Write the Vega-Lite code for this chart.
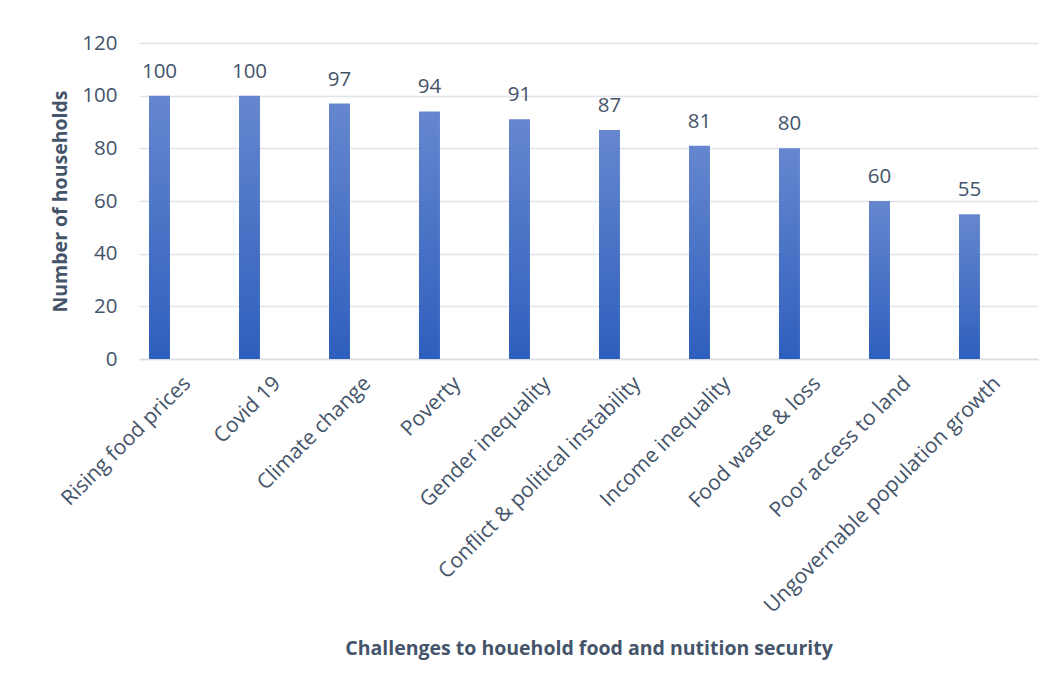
{
  "$schema": "https://vega.github.io/schema/vega-lite/v6.json",
  "width": 899,
  "height": 316,
  "autosize": {"type": "none"},
  "padding": {"left": 139, "top": 43, "right": 15, "bottom": 329},
  "background": "white",
  "config": {
    "view": {"stroke": null},
    "font": "Open Sans"
  },
  "data": {
    "values": [
      {"challenge": "Rising food prices", "households": 100},
      {"challenge": "Covid 19", "households": 100},
      {"challenge": "Climate change", "households": 97},
      {"challenge": "Poverty", "households": 94},
      {"challenge": "Gender inequality", "households": 91},
      {"challenge": "Conflict & political instability", "households": 87},
      {"challenge": "Income inequality", "households": 81},
      {"challenge": "Food waste & loss", "households": 80},
      {"challenge": "Poor access to land", "households": 60},
      {"challenge": "Ungovernable population growth", "households": 55}
    ]
  },
  "encoding": {
    "x": {
      "field": "challenge",
      "type": "nominal",
      "sort": null,
      "scale": {"paddingInner": 0.767, "paddingOuter": 0.378, "align": 0.147},
      "axis": {
        "title": "Challenges to houehold food and nutition security",
        "titleFont": "Open Sans",
        "titleFontSize": 19.5,
        "titleFontWeight": "bold",
        "titleColor": "#44546A",
        "titleY": 289,
        "titleBaseline": "middle",
        "labelAngle": -45,
        "labelAlign": "right",
        "labelBaseline": "middle",
        "labelFontSize": 21,
        "labelColor": "#44546A",
        "labelOffset": 28,
        "labelPadding": 21,
        "labelLimit": 500,
        "ticks": false,
        "domainColor": "#D9DCE3",
        "domainWidth": 1.5
      }
    },
    "y": {
      "field": "households",
      "type": "quantitative",
      "scale": {"domain": [0, 120]},
      "axis": {
        "title": "Number of households",
        "titleFont": "Open Sans",
        "titleFontSize": 19.5,
        "titleFontWeight": "bold",
        "titleColor": "#44546A",
        "titleX": -79,
        "titleY": 158,
        "titleBaseline": "middle",
        "titleAlign": "center",
        "values": [0, 20, 40, 60, 80, 100, 120],
        "labelFontSize": 20.5,
        "labelColor": "#44546A",
        "labelPadding": 22,
        "ticks": false,
        "domain": false,
        "gridColor": "#E1E4EA",
        "gridWidth": 1.5
      }
    }
  },
  "layer": [
    {
      "mark": {
        "type": "bar",
        "color": {
          "gradient": "linear",
          "x1": 0, "y1": 0, "x2": 0, "y2": 1,
          "stops": [
            {"offset": 0, "color": "#6687CF"},
            {"offset": 1, "color": "#2E5FBD"}
          ]
        }
      }
    },
    {
      "mark": {"type": "text", "dy": -18, "baseline": "alphabetic", "fontSize": 20.5, "color": "#44546A"},
      "encoding": {"text": {"field": "households", "type": "quantitative"}}
    }
  ]
}
